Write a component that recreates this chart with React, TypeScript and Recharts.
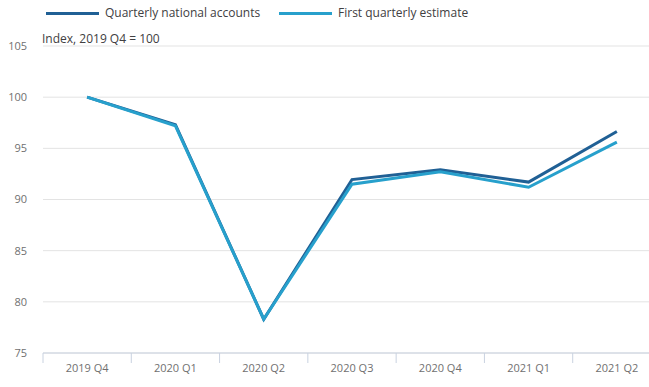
import React from 'react';
import { LineChart, Line, XAxis, YAxis, CartesianGrid } from 'recharts';

const quarters = ['2019 Q4', '2020 Q1', '2020 Q2', '2020 Q3', '2020 Q4', '2021 Q1', '2021 Q2'];
const nationalAccounts = [100, 97.3, 78.3, 91.95, 92.9, 91.7, 96.65];
const firstEstimate = [100, 97.2, 78.3, 91.5, 92.7, 91.2, 95.6];
const yTicks = [75, 80, 85, 90, 95, 100, 105];

const DARK = '#206095';
const LIGHT = '#27a0cc';
const AXIS = '#c9d2e0';
const FONT = '"Open Sans", sans-serif';

const data = quarters.map((q, i) => ({
  name: q,
  qna: nationalAccounts[i],
  first: firstEstimate[i],
}));

const LegendItem: React.FC<{ color: string; label: string; left: number }> = ({ color, label, left }) => (
  <div style={{ position: 'absolute', left, top: 4, display: 'flex', alignItems: 'center' }}>
    <div style={{ width: 53, height: 3, background: color, marginRight: 6 }} />
    <span style={{ fontSize: 12, color: '#414042', lineHeight: '18px' }}>{label}</span>
  </div>
);

// label in the middle of the band, tick marks on the band edges
const QuarterTick = (props: any) => {
  const { x, y, payload, index, visibleTicksCount } = props;
  const half = payload?.offset ?? 0;
  const top = y - 11;
  const isLast = index === (visibleTicksCount ?? quarters.length) - 1;
  return (
    <g>
      <line x1={x - half} x2={x - half} y1={top} y2={top + 10} stroke={AXIS} />
      {isLast && <line x1={x + half} x2={x + half} y1={top} y2={top + 10} stroke={AXIS} />}
      <text x={x} y={y} dy="0.71em" textAnchor="middle" fill="#707070" fontSize={11} fontFamily={FONT}>
        {payload.value}
      </text>
    </g>
  );
};

const App: React.FC = () => {
  return (
    <div
      style={{
        position: 'absolute',
        left: 0,
        top: 0,
        width: 649,
        height: 387,
        overflow: 'hidden',
        background: '#fff',
        fontFamily: FONT,
      }}
    >
      <LegendItem color={DARK} label="Quarterly national accounts" left={46} />
      <LegendItem color={LIGHT} label="First quarterly estimate" left={279} />
      <div style={{ position: 'absolute', left: 42, top: 30, fontSize: 12, color: '#414042' }}>
        Index, 2019 Q4 = 100
      </div>
      <div style={{ position: 'absolute', left: 0, top: 0 }}>
        <LineChart
          width={661}
          height={387}
          data={data}
          margin={{ top: 46, right: 0, bottom: 0, left: 0 }}
        >
          <CartesianGrid horizontal vertical={false} stroke="#e3e3e3" />
          <XAxis
            dataKey="name"
            scale="band"
            tickLine={false}
            axisLine={{ stroke: AXIS }}
            tick={QuarterTick}
            tickSize={6}
            tickMargin={5}
            height={34}
            interval={0}
          />
          <YAxis
            width={43}
            domain={[75, 105]}
            ticks={yTicks}
            axisLine={false}
            tickLine={false}
            tickSize={0}
            tickMargin={16}
            tick={{ fill: '#707070', fontSize: 11, fontFamily: FONT }}
          />
          <Line
            type="linear"
            dataKey="qna"
            stroke={DARK}
            strokeWidth={3}
            dot={false}
            isAnimationActive={false}
          />
          <Line
            type="linear"
            dataKey="first"
            stroke={LIGHT}
            strokeWidth={3}
            dot={false}
            isAnimationActive={false}
          />
        </LineChart>
      </div>
    </div>
  );
};

export default App;
